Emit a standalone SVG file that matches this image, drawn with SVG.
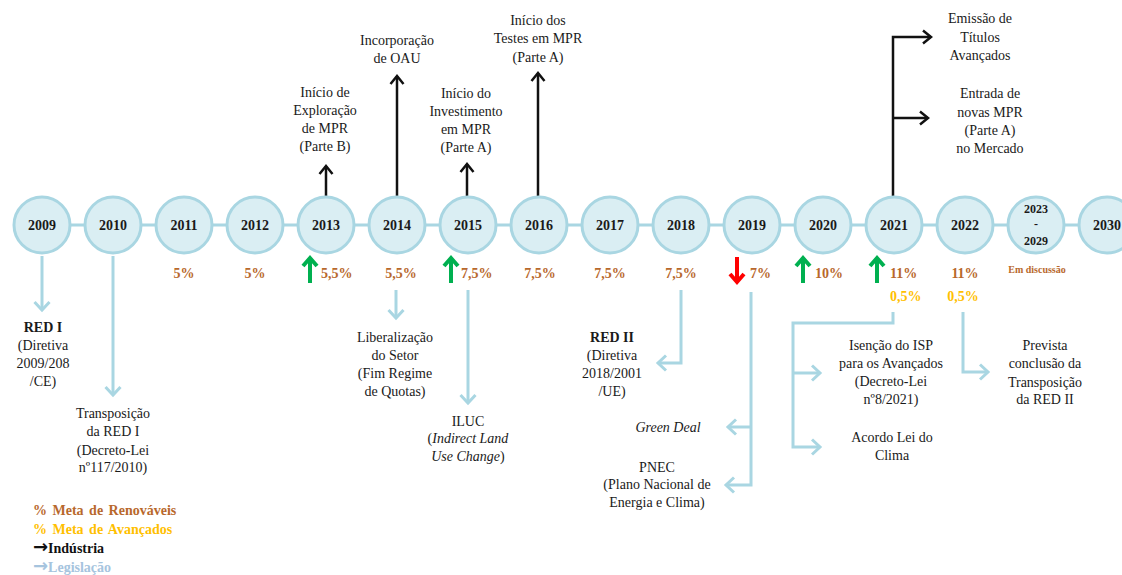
<svg xmlns="http://www.w3.org/2000/svg" width="1122" height="575" viewBox="0 0 1122 575" font-family="'Liberation Serif', 'DejaVu Serif', serif">
<style>
text{font-family:'Liberation Serif','DejaVu Serif',serif}
.t{font-size:14px;fill:#1a1a1a;text-anchor:middle}
.b{font-weight:bold}
.i{font-style:italic}
.yr{font-size:14px;font-weight:bold;fill:#1a1a1a;text-anchor:middle}
.pc{font-size:14px;font-weight:bold;fill:#B8682C}
.py{font-size:14px;font-weight:bold;fill:#FFC000}
.node circle{fill:#DAEEF3;stroke:#A9D6E2;stroke-width:3}
.ind{fill:none;stroke:#111;stroke-width:2.5;marker-end:url(#ah)}
.leg{fill:none;stroke:#A9D6E2;stroke-width:3;marker-end:url(#lh)}
.up{fill:none;stroke:#00B050;stroke-width:4}
.dn{fill:none;stroke:#FF0000;stroke-width:4}
.lg{font-size:14px;font-weight:bold;word-spacing:2px}
.ar{font-size:18px;font-family:'DejaVu Sans',sans-serif}
</style>
<defs>
<marker id="ah" markerUnits="userSpaceOnUse" markerWidth="20" markerHeight="20" refX="10" refY="8" orient="auto">
<path d="M2,1.5 L10,8 L2,14.5" fill="none" stroke="#111" stroke-width="2.5"/>
</marker>
<marker id="lh" markerUnits="userSpaceOnUse" markerWidth="20" markerHeight="20" refX="10" refY="9" orient="auto">
<path d="M2,1.5 L10,9 L2,16.5" fill="none" stroke="#A9D6E2" stroke-width="3"/>
</marker>
</defs>
<rect width="1122" height="575" fill="#ffffff"/>
<line x1="42" y1="225" x2="1122" y2="225" stroke="#A9D6E2" stroke-width="3"/>
<g id="connectors">
<path class="ind" d="M326,196 V166"/>
<path class="ind" d="M397,196 V76"/>
<path class="ind" d="M467,196 V164"/>
<path class="ind" d="M538,196 V73"/>
<path class="ind" d="M893,196 V37 H931"/>
<path class="ind" d="M893,118 H928"/>
<path class="leg" d="M42,256 V310"/>
<path class="leg" d="M113,256 V395"/>
<path class="leg" d="M396,290 V318"/>
<path class="leg" d="M468,290 V403"/>
<path class="leg" d="M681,290 V363 H658"/>
<path class="leg" d="M751,292 V485 H726"/>
<path class="leg" d="M751,427 H728"/>
<path class="leg" d="M893,312 V323 H793 V447 H820"/>
<path class="leg" d="M793,373 H820"/>
<path class="leg" d="M963,312 V372 H988"/>
<path class="up" d="M310,283 V258 M303,266 L310,258 L317,266"/>
<path class="up" d="M451,283 V258 M444,266 L451,258 L458,266"/>
<path class="up" d="M803,283 V258 M796,266 L803,258 L810,266"/>
<path class="up" d="M877,283 V258 M870,266 L877,258 L884,266"/>
<path class="dn" d="M737,257 V282 M730,274 L737,282 L744,274"/>
</g>
<g id="n2009" class="node"><circle cx="42" cy="225" r="28"/><text class="yr" x="42" y="230">2009</text></g>
<g id="n2010" class="node"><circle cx="113" cy="225" r="28"/><text class="yr" x="113" y="230">2010</text></g>
<g id="n2011" class="node"><circle cx="184" cy="225" r="28"/><text class="yr" x="184" y="230">2011</text></g>
<g id="n2012" class="node"><circle cx="255" cy="225" r="28"/><text class="yr" x="255" y="230">2012</text></g>
<g id="n2013" class="node"><circle cx="326" cy="225" r="28"/><text class="yr" x="326" y="230">2013</text></g>
<g id="n2014" class="node"><circle cx="397" cy="225" r="28"/><text class="yr" x="397" y="230">2014</text></g>
<g id="n2015" class="node"><circle cx="468" cy="225" r="28"/><text class="yr" x="468" y="230">2015</text></g>
<g id="n2016" class="node"><circle cx="539" cy="225" r="28"/><text class="yr" x="539" y="230">2016</text></g>
<g id="n2017" class="node"><circle cx="610" cy="225" r="28"/><text class="yr" x="610" y="230">2017</text></g>
<g id="n2018" class="node"><circle cx="681" cy="225" r="28"/><text class="yr" x="681" y="230">2018</text></g>
<g id="n2019" class="node"><circle cx="752" cy="225" r="28"/><text class="yr" x="752" y="230">2019</text></g>
<g id="n2020" class="node"><circle cx="823" cy="225" r="28"/><text class="yr" x="823" y="230">2020</text></g>
<g id="n2021" class="node"><circle cx="894" cy="225" r="28"/><text class="yr" x="894" y="230">2021</text></g>
<g id="n2022" class="node"><circle cx="965" cy="225" r="28"/><text class="yr" x="965" y="230">2022</text></g>
<g id="n2023" class="node"><circle cx="1036" cy="225" r="28"/><text class="yr" x="1036" y="213" style="font-size:12px">2023</text><text class="yr" x="1036" y="228" style="font-size:12px">-</text><text class="yr" x="1036" y="245" style="font-size:12px">2029</text></g>
<g id="n2030" class="node"><circle cx="1107" cy="225" r="28"/><text class="yr" x="1107" y="230">2030</text></g>
<g id="percent">
<text class="pc" x="184" y="278" text-anchor="middle">5%</text>
<text class="pc" x="255" y="278" text-anchor="middle">5%</text>
<text class="pc" x="321" y="278">5,5%</text>
<text class="pc" x="401" y="278" text-anchor="middle">5,5%</text>
<text class="pc" x="461" y="278">7,5%</text>
<text class="pc" x="540" y="278" text-anchor="middle">7,5%</text>
<text class="pc" x="610" y="278" text-anchor="middle">7,5%</text>
<text class="pc" x="681" y="278" text-anchor="middle">7,5%</text>
<text class="pc" x="750" y="278">7%</text>
<text class="pc" x="815" y="278">10%</text>
<text class="pc" x="890" y="278">11%</text>
<text class="pc" x="965" y="278" text-anchor="middle">11%</text>
<text class="py" x="890" y="301">0,5%</text>
<text class="py" x="963" y="301" text-anchor="middle">0,5%</text>
<text class="pc" x="1037" y="273" text-anchor="middle" style="font-size:10px">Em discussão</text>
</g>
<g id="ind2013"><text class="t" x="325" y="97">Início de</text><text class="t" x="325" y="115">Exploração</text><text class="t" x="325" y="133">de MPR</text><text class="t" x="325" y="151">(Parte B)</text></g>
<g id="ind2014"><text class="t" x="397" y="45">Incorporação</text><text class="t" x="397" y="63">de OAU</text></g>
<g id="ind2015"><text class="t" x="466" y="98">Início do</text><text class="t" x="466" y="116">Investimento</text><text class="t" x="466" y="134">em MPR</text><text class="t" x="466" y="152">(Parte A)</text></g>
<g id="ind2016"><text class="t" x="538" y="25">Início dos</text><text class="t" x="538" y="43">Testes em MPR</text><text class="t" x="538" y="62">(Parte A)</text></g>
<g id="ind2021a"><text class="t" x="980" y="23">Emissão de</text><text class="t" x="980" y="42">Títulos</text><text class="t" x="980" y="60">Avançados</text></g>
<g id="ind2021b"><text class="t" x="990" y="98">Entrada de</text><text class="t" x="990" y="117">novas MPR</text><text class="t" x="990" y="135">(Parte A)</text><text class="t" x="990" y="153">no Mercado</text></g>
<g id="leg2009"><text class="t b" x="43" y="332">RED I</text><text class="t" x="43" y="350">(Diretiva</text><text class="t" x="43" y="368">2009/208</text><text class="t" x="43" y="386">/CE)</text></g>
<g id="leg2010"><text class="t" x="113" y="418">Transposição</text><text class="t" x="113" y="436">da RED I</text><text class="t" x="113" y="455">(Decreto-Lei</text><text class="t" x="113" y="472">nº117/2010)</text></g>
<g id="leg2014"><text class="t" x="395" y="342">Liberalização</text><text class="t" x="395" y="360">do Setor</text><text class="t" x="395" y="378">(Fim Regime</text><text class="t" x="395" y="396">de Quotas)</text></g>
<g id="leg2015"><text class="t" x="468" y="426">ILUC</text><text class="t" x="468" y="443">(<tspan class="i">Indirect Land</tspan></text><text class="t" x="468" y="461"><tspan class="i">Use Change</tspan>)</text></g>
<g id="leg2018"><text class="t b" x="612" y="342">RED II</text><text class="t" x="612" y="360">(Diretiva</text><text class="t" x="612" y="378">2018/2001</text><text class="t" x="612" y="396">/UE)</text></g>
<g id="leg2019a"><text class="t i" x="668" y="432">Green Deal</text></g>
<g id="leg2019b"><text class="t" x="657" y="472">PNEC</text><text class="t" x="657" y="489">(Plano Nacional de</text><text class="t" x="657" y="507">Energia e Clima)</text></g>
<g id="leg2021a"><text class="t" x="891" y="350">Isenção do ISP</text><text class="t" x="891" y="368">para os Avançados</text><text class="t" x="891" y="386">(Decreto-Lei</text><text class="t" x="891" y="404">nº8/2021)</text></g>
<g id="leg2021b"><text class="t" x="892" y="442">Acordo Lei do</text><text class="t" x="892" y="460">Clima</text></g>
<g id="leg2022"><text class="t" x="1045" y="350">Prevista</text><text class="t" x="1045" y="368">conclusão da</text><text class="t" x="1045" y="387">Transposição</text><text class="t" x="1045" y="404">da RED II</text></g>
<g id="legend">
<text class="lg" x="33" y="515" fill="#B8682C">% Meta de Renováveis</text>
<text class="lg" x="33" y="534" fill="#FFC000">% Meta de Avançados</text>
<text class="lg" x="33" y="553" fill="#111"><tspan class="ar">→</tspan>Indústria</text>
<text class="lg" x="33" y="572" fill="#A6C4DE"><tspan class="ar">→</tspan>Legislação</text>
</g>
</svg>
